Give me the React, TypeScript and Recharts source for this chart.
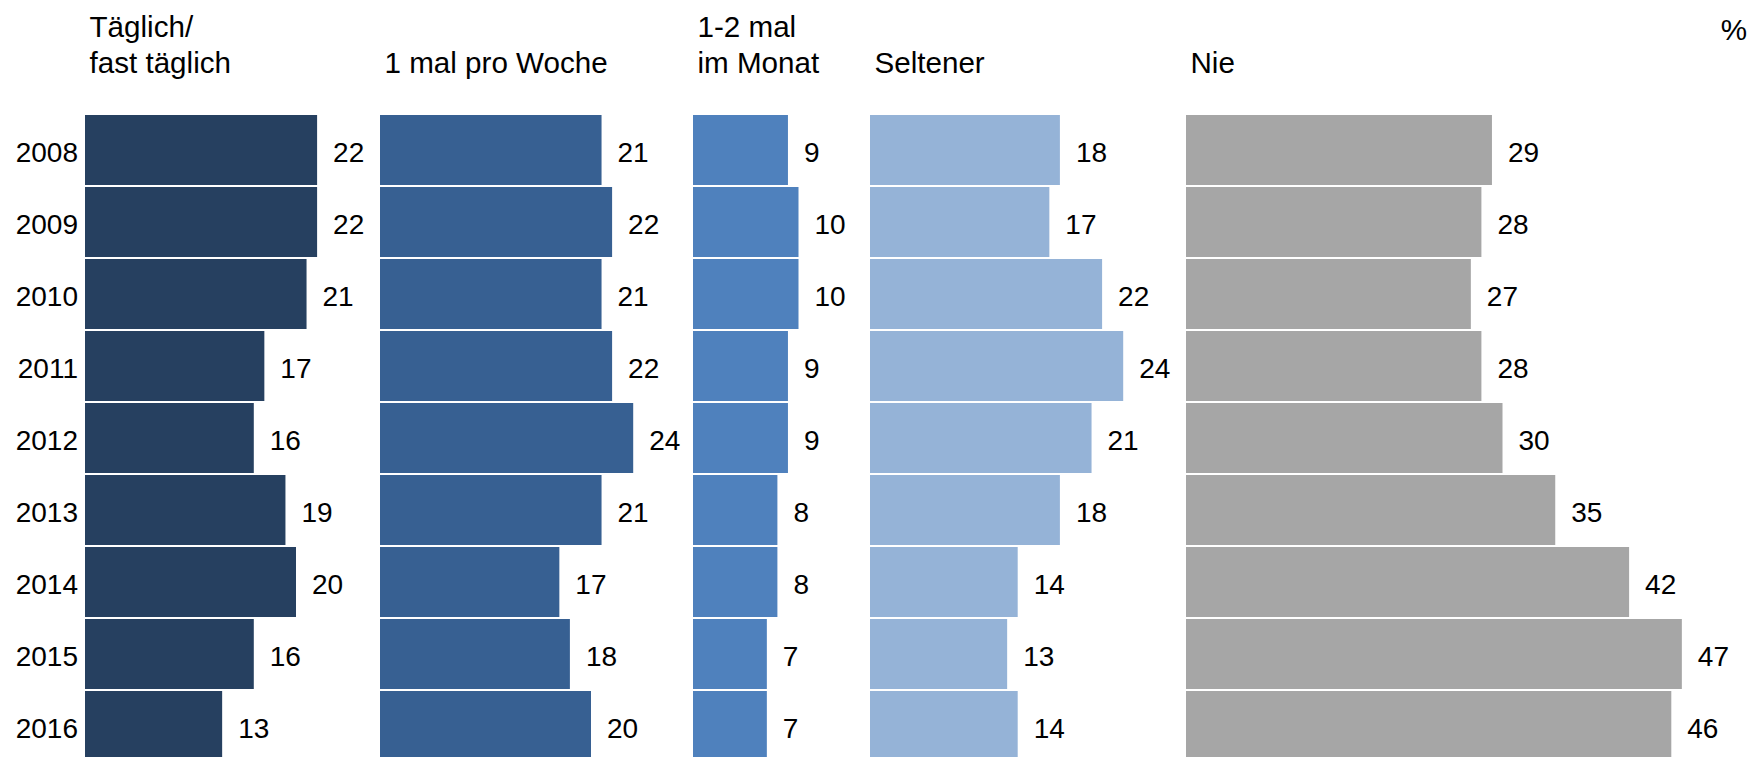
import React from 'react';
import { BarChart, Bar, XAxis, YAxis, LabelList } from 'recharts';

const years = ['2008', '2009', '2010', '2011', '2012', '2013', '2014', '2015', '2016'];
const daily = [22, 22, 21, 17, 16, 19, 20, 16, 13];
const weekly = [21, 22, 21, 22, 24, 21, 17, 18, 20];
const monthly = [9, 10, 10, 9, 9, 8, 8, 7, 7];
const rarely = [18, 17, 22, 24, 21, 18, 14, 13, 14];
const never = [29, 28, 27, 28, 30, 35, 42, 47, 46];

const headerDaily = ['Täglich/', 'fast täglich'];
const headerWeekly = ['1 mal pro Woche'];
const headerMonthly = ['1-2 mal', 'im Monat'];
const headerRarely = ['Seltener'];
const headerNever = ['Nie'];
const unitLabel = '%';

const FONT = '"Liberation Sans", Arial, sans-serif';
const PX_PER_UNIT = 10.55;
const ROW = 72;
const PLOT_TOP = 114;

const panels = [
  { key: 'daily', values: daily, header: headerDaily, color: '#264060', left: 85, width: 295 },
  { key: 'weekly', values: weekly, header: headerWeekly, color: '#376092', left: 380, width: 313 },
  { key: 'monthly', values: monthly, header: headerMonthly, color: '#4F81BD', left: 693, width: 177 },
  { key: 'rarely', values: rarely, header: headerRarely, color: '#95B3D7', left: 870, width: 316 },
  { key: 'never', values: never, header: headerNever, color: '#A6A6A6', left: 1186, width: 567 },
];

const Y_AXIS_W = 85;

export default function App() {
  return (
    <div
      style={{
        position: 'absolute',
        left: 0,
        top: 0,
        width: 1753,
        height: 757,
        overflow: 'hidden',
        background: '#fff',
        fontFamily: FONT,
      }}
    >
      {panels.map((p, i) => {
        const data = years.map((y, j) => ({ year: y, value: p.values[j] }));
        const first = i === 0;
        const chartLeft = first ? 0 : p.left;
        const chartWidth = first ? p.left + p.width : p.width;
        return (
          <div
            key={p.key}
            style={{ position: 'absolute', left: chartLeft, top: PLOT_TOP }}
          >
            <BarChart
              layout="vertical"
              width={chartWidth}
              height={ROW * years.length}
              data={data}
              margin={{ top: 0, right: 0, bottom: 0, left: 0 }}
              barSize={70}
            >
              <XAxis type="number" domain={[0, p.width / PX_PER_UNIT]} hide />
              <YAxis
                type="category"
                dataKey="year"
                hide={!first}
                width={first ? Y_AXIS_W : 0}
                axisLine={false}
                tickLine={false}
                tickSize={0}
                tickMargin={7}
                tick={{ fill: '#000', fontSize: 28, fontFamily: FONT, dy: 2 }}
                interval={0}
              />
              <Bar dataKey="value" fill={p.color} isAnimationActive={false}>
                <LabelList
                  dataKey="value"
                  position="right"
                  offset={16}
                  fill="#000"
                  fontSize={28}
                  fontFamily={FONT}
                  dy={2}
                />
              </Bar>
            </BarChart>
          </div>
        );
      })}
      <svg
        width={1753}
        height={100}
        style={{ position: 'absolute', left: 0, top: 0 }}
      >
        {panels.map((p) =>
          p.header.map((line, li) => {
            const baseline = p.header.length === 2 ? (li === 0 ? 37 : 73) : 73;
            return (
              <text
                key={p.key + li}
                x={p.left + 4.5}
                y={baseline}
                fontSize={29.6}
                fontFamily={FONT}
                fill="#000"
              >
                {line}
              </text>
            );
          })
        )}
        <text x={1747} y={40} textAnchor="end" fontSize={29.6} fontFamily={FONT} fill="#000">
          {unitLabel}
        </text>
      </svg>
    </div>
  );
}
